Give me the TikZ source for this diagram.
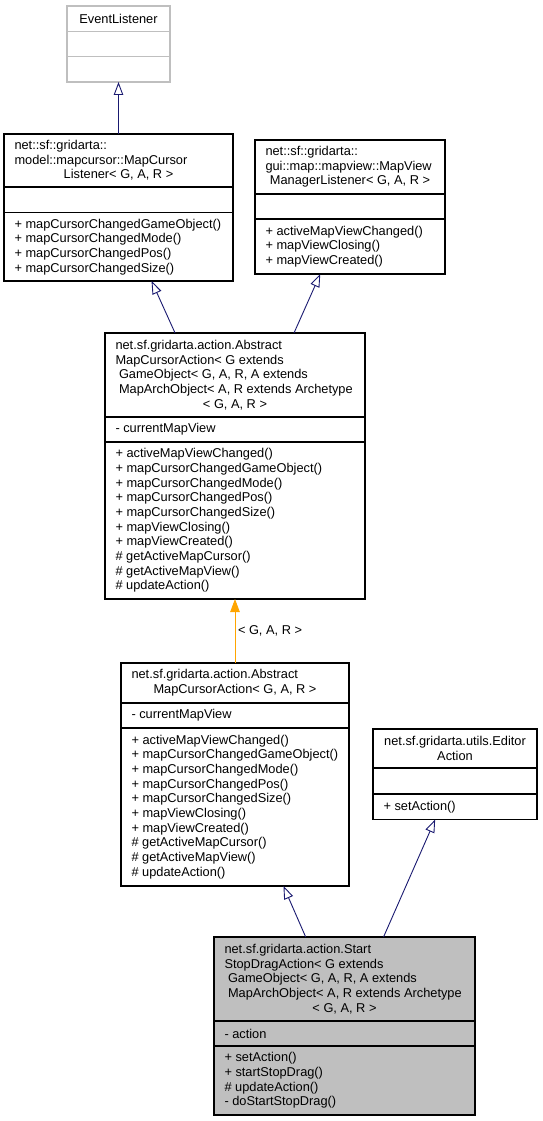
\documentclass[tikz,border=0pt]{standalone}
\usepackage{fontspec}
\setmainfont{Liberation Sans}
\usetikzlibrary{arrows.meta,calc}
\definecolor{edgeblue}{HTML}{191970}
\definecolor{tmplorange}{HTML}{FFA500}
\definecolor{boxgray}{HTML}{BFBFBF}
\definecolor{lightborder}{HTML}{BFBFBF}
\newcommand\umlfont{\fontsize{12.8}{14.67}\selectfont}
\begin{document}
\begin{tikzpicture}[x=1pt,y=-1pt,
  umlbox/.style={draw=black, line width=1.1pt, inner sep=0pt, outer sep=0pt, anchor=north west},
  divl/.style={draw=black, line width=1.1pt},
  txt/.style={font=\umlfont, inner sep=0pt, outer sep=0pt, align=left, anchor=west},
  ctxt/.style={font=\umlfont, inner sep=0pt, outer sep=0pt, align=center, anchor=center},
  inh/.style={draw=edgeblue, line width=0.9pt, -{Triangle[open, length=13pt, width=9.5pt, line width=0.9pt]}},
  tmpl/.style={draw=tmplorange, line width=0.9pt, -{Triangle[length=13pt, width=9.5pt]}},
  lbl/.style={font=\umlfont, inner sep=0pt, outer sep=0pt, anchor=west, xshift=3pt}
]
\useasboundingbox (0,0) rectangle (542,1121);

% ---------- b1 EventListener ----------
\node[umlbox, draw=lightborder, minimum width=103pt, minimum height=76pt] (b1) at (67,6) {};
\draw[divl, draw=lightborder] ($(b1.north west)+(0,25.7)$) -- ($(b1.north east)+(0,25.7)$);
\draw[divl, draw=lightborder] ($(b1.north west)+(0,50.7)$) -- ($(b1.north east)+(0,50.7)$);
\node[ctxt] (b1t) at ($(b1.north)+(0,12.85)$) {EventListener};

% ---------- b2 MapCursorListener ----------
\node[umlbox, minimum width=229pt, minimum height=147pt] (b2) at (4,134) {};
\draw[divl] ($(b2.north west)+(0,53)$) -- ($(b2.north east)+(0,53)$);
\draw[divl] ($(b2.north west)+(0,78.5)$) -- ($(b2.north east)+(0,78.5)$);
\node[txt] (b2t) at ($(b2.north west)+(10.5,26.5)$) {net::sf::gridarta::\\model::mapcursor::MapCursor\\\makebox[208pt][c]{Listener< G, A, R >}};
\node[txt] (b2m) at ($(b2.north west)+(10.5,112.75)$) {+ mapCursorChangedGameObject()\\+ mapCursorChangedMode()\\+ mapCursorChangedPos()\\+ mapCursorChangedSize()};

% ---------- b3 MapViewManagerListener ----------
\node[umlbox, minimum width=190pt, minimum height=134pt] (b3) at (255,140) {};
\draw[divl] ($(b3.north west)+(0,54)$) -- ($(b3.north east)+(0,54)$);
\draw[divl] ($(b3.north west)+(0,79)$) -- ($(b3.north east)+(0,79)$);
\node[txt] (b3t) at ($(b3.north west)+(10.5,27)$) {net::sf::gridarta::\\gui::map::mapview::MapView\\\makebox[169pt][c]{ManagerListener< G, A, R >}};
\node[txt] (b3m) at ($(b3.north west)+(10.5,106.5)$) {+ activeMapViewChanged()\\+ mapViewClosing()\\+ mapViewCreated()};

% ---------- b4 AbstractMapCursorAction (extends) ----------
\node[umlbox, minimum width=260pt, minimum height=266pt] (b4) at (105,333) {};
\draw[divl] ($(b4.north west)+(0,84)$) -- ($(b4.north east)+(0,84)$);
\draw[divl] ($(b4.north west)+(0,109)$) -- ($(b4.north east)+(0,109)$);
\node[txt] (b4t) at ($(b4.north west)+(10.5,42)$) {net.sf.gridarta.action.Abstract\\MapCursorAction< G extends\\\hspace*{3.5pt}GameObject< G, A, R, A extends\\\hspace*{3.5pt}MapArchObject< A, R extends Archetype\\\makebox[239pt][c]{< G, A, R >}};
\node[txt] (b4a) at ($(b4.north west)+(10.5,96.5)$) {- currentMapView};
\node[txt] (b4m) at ($(b4.north west)+(10.5,187.5)$) {+ activeMapViewChanged()\\+ mapCursorChangedGameObject()\\+ mapCursorChangedMode()\\+ mapCursorChangedPos()\\+ mapCursorChangedSize()\\+ mapViewClosing()\\+ mapViewCreated()\\\# getActiveMapCursor()\\\# getActiveMapView()\\\# updateAction()};

% ---------- b5 AbstractMapCursorAction<G,A,R> ----------
\node[umlbox, minimum width=228pt, minimum height=223pt] (b5) at (121,663) {};
\draw[divl] ($(b5.north west)+(0,40)$) -- ($(b5.north east)+(0,40)$);
\draw[divl] ($(b5.north west)+(0,65)$) -- ($(b5.north east)+(0,65)$);
\node[txt] (b5t) at ($(b5.north west)+(10.5,20)$) {net.sf.gridarta.action.Abstract\\\makebox[207pt][c]{MapCursorAction< G, A, R >}};
\node[txt] (b5a) at ($(b5.north west)+(10.5,52.5)$) {- currentMapView};
\node[txt] (b5m) at ($(b5.north west)+(10.5,144)$) {+ activeMapViewChanged()\\+ mapCursorChangedGameObject()\\+ mapCursorChangedMode()\\+ mapCursorChangedPos()\\+ mapCursorChangedSize()\\+ mapViewClosing()\\+ mapViewCreated()\\\# getActiveMapCursor()\\\# getActiveMapView()\\\# updateAction()};

% ---------- b6 EditorAction ----------
\node[umlbox, minimum width=164pt, minimum height=90.5pt] (b6) at (373,729) {};
\draw[divl] ($(b6.north west)+(0,39)$) -- ($(b6.north east)+(0,39)$);
\draw[divl] ($(b6.north west)+(0,65)$) -- ($(b6.north east)+(0,65)$);
\node[ctxt] (b6t) at ($(b6.north)+(0,19.5)$) {net.sf.gridarta.utils.Editor\\Action};
\node[txt] (b6m) at ($(b6.north west)+(10.5,77.75)$) {+ setAction()};

% ---------- b7 StartStopDragAction ----------
\node[umlbox, fill=boxgray, minimum width=261pt, minimum height=178pt] (b7) at (214,937) {};
\draw[divl] ($(b7.north west)+(0,84)$) -- ($(b7.north east)+(0,84)$);
\draw[divl] ($(b7.north west)+(0,109)$) -- ($(b7.north east)+(0,109)$);
\node[txt] (b7t) at ($(b7.north west)+(10.5,42)$) {net.sf.gridarta.action.Start\\StopDragAction< G extends\\\hspace*{3.5pt}GameObject< G, A, R, A extends\\\hspace*{3.5pt}MapArchObject< A, R extends Archetype\\\makebox[240pt][c]{< G, A, R >}};
\node[txt] (b7a) at ($(b7.north west)+(10.5,96.5)$) {- action};
\node[txt] (b7m) at ($(b7.north west)+(10.5,143.5)$) {+ setAction()\\+ startStopDrag()\\\# updateAction()\\- doStartStopDrag()};

% ---------- connectors ----------
\draw[inh] (b2) -- (b1);
\draw[inh] (b4) -- (b2);
\draw[inh] (b4) -- (b3);
\draw[tmpl] (b5) -- node[lbl] (l1) {< G, A, R >} (b4);
\draw[inh] (b7) -- (b5);
\draw[inh] (b7) -- (b6);
\end{tikzpicture}
\end{document}
